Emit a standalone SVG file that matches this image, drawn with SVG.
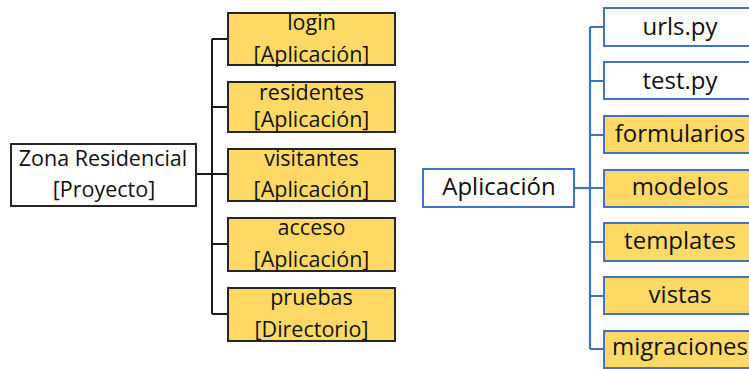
<svg xmlns="http://www.w3.org/2000/svg" width="749" height="369" viewBox="0 0 749 369">
  <style>
    .bg { fill: #ffffff; }
    .proj { fill: #ffffff; stroke: #262626; stroke-width: 2; }
    .app { fill: #FFD966; stroke: #262626; stroke-width: 2; }
    .file { fill: #ffffff; stroke: #4472C4; stroke-width: 2; }
    .dir { fill: #FFD966; stroke: #4472C4; stroke-width: 2; }
    .lbl { font-family: "Open Sans", "Noto Sans", sans-serif; fill: #111111; text-anchor: middle; }
    .l { font-size: 21.5px; }
    .r { font-size: 24px; }
    .black-lines { stroke: #1a1a1a; stroke-width: 2; fill: none; }
    .blue-lines { stroke: #4472C4; stroke-width: 2.2; fill: none; }
  </style>
  <rect class="bg" x="0" y="0" width="749" height="369"/>

  <!-- connectors -->
  <g id="connectors">
    <g class="black-lines">
      <path d="M196 174 H212"/>
      <path d="M212 39 V314"/>
      <path d="M212 39 H228 M212 107 H228 M212 174 H228 M212 244 H228 M212 314 H228"/>
    </g>
    <g class="blue-lines">
      <path d="M575 188 H590"/>
      <path d="M590 27 V349"/>
      <path d="M590 27 H604 M590 81 H604 M590 135 H604 M590 188 H604 M590 242 H604 M590 296 H604 M590 349 H604"/>
    </g>
  </g>

  <!-- project tree -->
  <g id="proyecto">
    <rect class="proj" x="11" y="144" width="185" height="62"/>
    <text class="lbl l" x="103" y="166">Zona Residencial</text>
    <text class="lbl l" x="104" y="197">[Proyecto]</text>
  </g>
  <g id="login">
    <rect class="app" x="228" y="13" width="167" height="52"/>
    <text class="lbl l" x="311.5" y="30">login</text>
    <text class="lbl l" x="311.5" y="61.5">[Aplicación]</text>
  </g>
  <g id="residentes">
    <rect class="app" x="228" y="82" width="167" height="50"/>
    <text class="lbl l" x="311.5" y="100">residentes</text>
    <text class="lbl l" x="311.5" y="127">[Aplicación]</text>
  </g>
  <g id="visitantes">
    <rect class="app" x="228" y="149" width="167" height="52"/>
    <text class="lbl l" x="311.5" y="165.5">visitantes</text>
    <text class="lbl l" x="311.5" y="196.5">[Aplicación]</text>
  </g>
  <g id="acceso">
    <rect class="app" x="228" y="218" width="167" height="53"/>
    <text class="lbl l" x="311.5" y="235">acceso</text>
    <text class="lbl l" x="311.5" y="267">[Aplicación]</text>
  </g>
  <g id="pruebas">
    <rect class="app" x="228" y="288" width="167" height="53"/>
    <text class="lbl l" x="311.5" y="305">pruebas</text>
    <text class="lbl l" x="311.5" y="336.5">[Directorio]</text>
  </g>

  <!-- application layout -->
  <g id="aplicacion">
    <rect class="file" x="423" y="169" width="151" height="38"/>
    <text class="lbl r" x="499" y="195">Aplicación</text>
  </g>
  <g id="urls">
    <rect class="file" x="604" y="8" width="152" height="38"/>
    <text class="lbl r" x="680" y="35">urls.py</text>
  </g>
  <g id="test">
    <rect class="file" x="604" y="62" width="152" height="37"/>
    <text class="lbl r" x="680" y="89">test.py</text>
  </g>
  <g id="formularios">
    <rect class="dir" x="604" y="116" width="152" height="37"/>
    <text class="lbl r" x="680" y="142">formularios</text>
  </g>
  <g id="modelos">
    <rect class="dir" x="604" y="170" width="152" height="37"/>
    <text class="lbl r" x="680" y="195">modelos</text>
  </g>
  <g id="templates">
    <rect class="dir" x="604" y="223" width="152" height="38"/>
    <text class="lbl r" x="680" y="249">templates</text>
  </g>
  <g id="vistas">
    <rect class="dir" x="604" y="277" width="152" height="37"/>
    <text class="lbl r" x="680" y="303">vistas</text>
  </g>
  <g id="migraciones">
    <rect class="dir" x="604" y="331" width="152" height="37"/>
    <text class="lbl r" x="680" y="355">migraciones</text>
  </g>
</svg>
